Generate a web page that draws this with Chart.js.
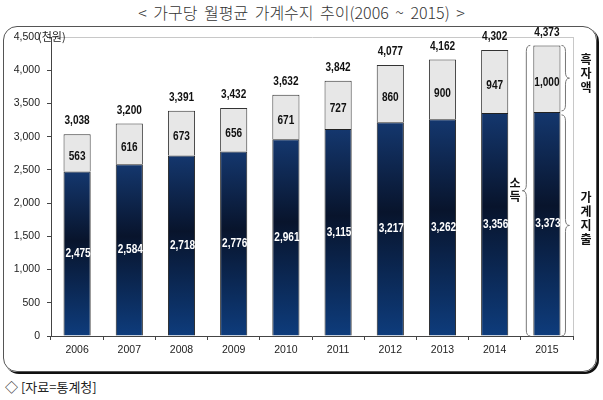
<!DOCTYPE html>
<html>
<head>
<meta charset="utf-8">
<script src="https://cdn.jsdelivr.net/npm/chart.js@4/dist/chart.umd.min.js"></script>
<style>
  body { margin: 0; background: #fff; }
  #wrap { position: relative; width: 603px; height: 400px; overflow: hidden; }
  #title { position: absolute; left: 0; top: 0px; width: 603px; text-align: center;
           font: 300 16px "Noto Sans CJK KR", sans-serif; color: #333; word-spacing: 3px; }
  #box { position: absolute; left: 3px; top: 26px; width: 592px; height: 344px;
         border: 1px solid #555; border-radius: 14px; box-shadow: 2px 2px 0 #111; }
  #note { position: absolute; left: 5px; top: 377px; font: 13px "Noto Sans CJK KR", sans-serif; color: #222; }
  #c { position: absolute; left: 0; top: 0; }
</style>
</head>
<body>
<div id="wrap">
  <div id="title">&lt; 가구당 월평균 가계수지 추이(2006 ~ 2015) &gt;</div>
  <div id="box"></div>
  <div id="note">◇ [자료=통계청]</div>
  <canvas id="c" width="603" height="400"></canvas>
</div>
<script>
// 데이터 (단위: 천원)
const years = ['2006', '2007', '2008', '2009', '2010', '2011', '2012', '2013', '2014', '2015'];
const expenses = [2475, 2584, 2718, 2776, 2961, 3115, 3217, 3262, 3356, 3373];  // 가계지출
const surplus = [563, 616, 673, 656, 671, 727, 860, 900, 947, 1000];           // 흑자액
const totals = [3038, 3200, 3391, 3432, 3632, 3842, 4077, 4162, 4302, 4373];   // 소득

const numFont = '"Liberation Sans", sans-serif';
const fmt = v => v.toLocaleString('en-US');

// 막대마다 위아래로 어두워지는 남색 그라데이션
const navyFill = (c) => {
    const chart = c.chart;
    if (!chart.chartArea) return '#10306a';
    const y = chart.scales.y;
    const top = y.getPixelForValue(expenses[c.dataIndex]);
    const bot = y.getPixelForValue(0);
    const g = chart.ctx.createLinearGradient(0, top, 0, bot);
    g.addColorStop(0, '#14376e');
    g.addColorStop(0.42, '#08142c');
    g.addColorStop(1, '#0e3c7c');
    return g;
};

// 중괄호 그리기
function brace(ctx, x, y1, y2, dir, w) {
    const m = (y1 + y2) / 2;
    const r = Math.min(6, (y2 - y1) / 4);
    ctx.beginPath();
    ctx.moveTo(x - dir * w, y1);
    ctx.quadraticCurveTo(x, y1, x, y1 + r);
    ctx.lineTo(x, m - r);
    ctx.quadraticCurveTo(x, m, x + dir * w, m);
    ctx.quadraticCurveTo(x, m, x, m + r);
    ctx.lineTo(x, y2 - r);
    ctx.quadraticCurveTo(x, y2, x - dir * w, y2);
    ctx.stroke();
}

function vText(ctx, str, x, y, gap) {
    [...str].forEach((ch, i) => ctx.fillText(ch, x, y + i * gap));
}

// 좁은 글꼴 느낌으로 가로 압축해서 찍기
function narrowText(ctx, str, x, y) {
    ctx.save();
    ctx.translate(x, y);
    ctx.scale(0.84, 1);
    ctx.fillText(str, 0, 0);
    ctx.restore();
}

const labelsPlugin = {
    id: 'labels',
    afterDatasetsDraw(chart) {
        const ctx = chart.ctx;
        const y = chart.scales.y;
        const area = chart.chartArea;
        const low = chart.getDatasetMeta(0).data;
        const up = chart.getDatasetMeta(1).data;
        ctx.save();

        // 오른쪽 경계선
        ctx.strokeStyle = '#c8c8c8';
        ctx.lineWidth = 1;
        ctx.beginPath();
        ctx.moveTo(area.right + 0.5, area.top);
        ctx.lineTo(area.right + 0.5, area.bottom);
        ctx.stroke();

        ctx.textAlign = 'center';
        ctx.textBaseline = 'middle';
        ctx.font = 'bold 12px ' + numFont;
        low.forEach((bar, i) => {
            ctx.fillStyle = '#fff';
            narrowText(ctx, fmt(expenses[i]), bar.x + 1, (bar.y + bar.base) / 2);
            const u = up[i];
            ctx.fillStyle = '#111';
            narrowText(ctx, fmt(surplus[i]), u.x, (u.y + u.base) / 2 + 4);
            narrowText(ctx, fmt(totals[i]), u.x, y.getPixelForValue(totals[i]) - 13);
        });

        // 단위
        ctx.font = '11px "Noto Sans CJK KR", sans-serif';
        ctx.textAlign = 'left';
        ctx.fillStyle = '#222';
        ctx.fillText('(천원)', 38, area.top);

        // 2015년 주석 괄호
        const last = up[up.length - 1];
        const topY = y.getPixelForValue(totals[totals.length - 1]);
        const midY = y.getPixelForValue(expenses[expenses.length - 1]);
        const baseY = y.getPixelForValue(0);
        ctx.strokeStyle = '#777';
        brace(ctx, last.x + last.width / 2 + 5, topY, midY - 1, 1, 4);
        brace(ctx, last.x + last.width / 2 + 5, midY + 3, baseY, 1, 4);
        brace(ctx, last.x - last.width / 2 - 7, topY, baseY, -1, 4);

        ctx.font = 'bold 12px "Noto Sans CJK KR", sans-serif';
        ctx.textAlign = 'center';
        ctx.fillStyle = '#111';
        vText(ctx, '흑자액', 586, topY + 14, 14);
        vText(ctx, '가계지출', 586, (midY + baseY) / 2 - 27, 14);
        vText(ctx, '소득', 515, (topY + baseY) / 2 - 7, 13);
        ctx.restore();
    }
};

Chart.defaults.font.family = numFont;
Chart.defaults.color = '#222';

new Chart(document.getElementById('c'), {
    type: 'bar',
    data: {
        labels: years,
        datasets: [{
            label: '가계지출',
            data: expenses,
            backgroundColor: navyFill,
            borderColor: '#222',
            borderWidth: 1
        }, {
            label: '흑자액',
            data: surplus,
            backgroundColor: '#e7e7e7',
            borderColor: '#333',
            borderWidth: 1
        }]
    },
    options: {
        responsive: false,
        animation: false,
        layout: { padding: { left: 0, top: 37, right: 30, bottom: 40 } },
        datasets: { bar: { categoryPercentage: 1, barPercentage: 0.52 } },
        plugins: { legend: { display: false }, tooltip: { enabled: false } },
        scales: {
            x: {
                stacked: true,
                afterFit: s => { s.height = 24; },
                border: { color: '#444' },
                grid: { color: 'transparent', tickColor: '#444', tickLength: 4 },
                ticks: { font: { size: 10.5 }, padding: 4 }
            },
            y: {
                stacked: true,
                min: 0,
                max: 4500,
                afterFit: s => { s.width = 51; },
                border: { color: '#444' },
                grid: {
                    color: c => c.tick && c.tick.value === 4500 ? '#c8c8c8' : 'transparent',
                    tickColor: '#444',
                    tickLength: 4
                },
                ticks: { stepSize: 500, font: { size: 10.5 }, padding: 7, callback: v => fmt(v) }
            }
        }
    },
    plugins: [labelsPlugin]
});
</script>
</body>
</html>
